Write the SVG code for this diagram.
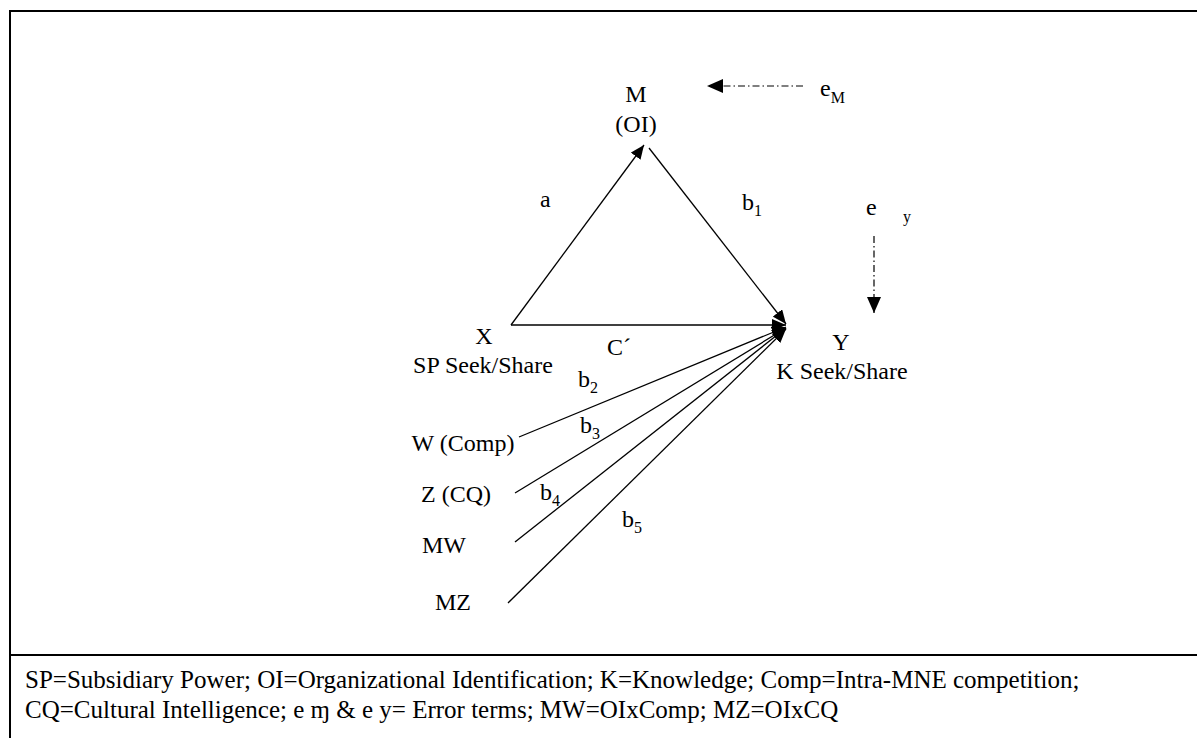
<svg xmlns="http://www.w3.org/2000/svg" width="1197" height="738" viewBox="0 0 1197 738" font-family="'Liberation Serif', 'Times New Roman', 'DejaVu Serif', serif">
  <style>
    text { font-family: "Liberation Serif", "Times New Roman", "DejaVu Serif", serif; fill: #000; }
    .lbl { font-size: 24px; }
    .sub { font-size: 16px; }
    .note { font-size: 25px; }
    .path { stroke: #000; stroke-width: 1.3; fill: none; }
    .err { stroke: #000; stroke-width: 1.2; fill: none; stroke-dasharray: 7 3 1.5 3; }
    .frame { stroke: #000; stroke-width: 2; fill: none; }
  </style>
  <defs>
    <marker id="head" viewBox="0 0 14 12" refX="14" refY="6" markerWidth="14" markerHeight="12" markerUnits="userSpaceOnUse" orient="auto">
      <path d="M0,0 L14,6 L0,12 z" fill="#000"/>
    </marker>
    <marker id="head-err" viewBox="0 0 16 14" refX="16" refY="7" markerWidth="16" markerHeight="14" markerUnits="userSpaceOnUse" orient="auto">
      <path d="M0,0 L16,7 L0,14 z" fill="#000"/>
    </marker>
  </defs>
  <rect width="1197" height="738" fill="#fff"/>

  <!-- frame and legend divider -->
  <g id="frame">
    <path class="frame" d="M10,738 V11 H1197"/>
    <line class="frame" x1="10" y1="655" x2="1197" y2="655"/>
  </g>

  <!-- path connectors -->
  <g id="connectors">
    <line class="path" x1="511" y1="325" x2="644" y2="145" marker-end="url(#head)"/>
    <line class="path" x1="649" y1="148" x2="786" y2="324" marker-end="url(#head)"/>
    <line class="path" x1="511" y1="325" x2="786" y2="325" marker-end="url(#head)"/>
    <line class="path" x1="519" y1="437" x2="786" y2="327" marker-end="url(#head)"/>
    <line class="path" x1="515" y1="493" x2="786" y2="328" marker-end="url(#head)"/>
    <line class="path" x1="515" y1="542" x2="786" y2="328" marker-end="url(#head)"/>
    <line class="path" x1="508" y1="603" x2="786" y2="329" marker-end="url(#head)"/>
    <line class="err" x1="803" y1="86" x2="707" y2="86" marker-end="url(#head-err)"/>
    <line class="err" x1="874" y1="236" x2="874" y2="313" marker-end="url(#head-err)"/>
  </g>

  <!-- nodes -->
  <g id="node-m">
    <text class="lbl" x="636" y="102" text-anchor="middle">M</text>
    <text class="lbl" x="636" y="132" text-anchor="middle">(OI)</text>
  </g>
  <g id="node-x">
    <text class="lbl" x="484" y="344" text-anchor="middle">X</text>
    <text class="lbl" x="483" y="373" text-anchor="middle">SP Seek/Share</text>
  </g>
  <g id="node-y">
    <text class="lbl" x="841" y="350" text-anchor="middle">Y</text>
    <text class="lbl" x="842" y="379" text-anchor="middle">K Seek/Share</text>
  </g>
  <g id="node-w">
    <text class="lbl" x="463" y="451" text-anchor="middle">W (Comp)</text>
  </g>
  <g id="node-z">
    <text class="lbl" x="456" y="502" text-anchor="middle">Z (CQ)</text>
  </g>
  <g id="node-mw">
    <text class="lbl" x="444" y="553" text-anchor="middle">MW</text>
  </g>
  <g id="node-mz">
    <text class="lbl" x="453" y="610" text-anchor="middle">MZ</text>
  </g>
  <g id="node-em">
    <text class="lbl" x="820" y="96">e<tspan class="sub" dy="7">M</tspan></text>
  </g>
  <g id="node-ey">
    <text class="lbl" x="866" y="215">e</text>
    <text class="sub" x="903" y="222">y</text>
  </g>

  <!-- coefficient labels -->
  <g id="coefficients">
    <text class="lbl" x="540" y="207">a</text>
    <text class="lbl" x="742" y="210">b<tspan class="sub" dy="6">1</tspan></text>
    <text class="lbl" x="607" y="355">C´</text>
    <text class="lbl" x="578" y="387">b<tspan class="sub" dy="6">2</tspan></text>
    <text class="lbl" x="580" y="433">b<tspan class="sub" dy="6">3</tspan></text>
    <text class="lbl" x="540" y="500">b<tspan class="sub" dy="6">4</tspan></text>
    <text class="lbl" x="622" y="527">b<tspan class="sub" dy="6">5</tspan></text>
  </g>

  <!-- legend -->
  <g id="legend">
    <text class="note" x="25" y="688">SP=Subsidiary Power; OI=Organizational Identification; K=Knowledge; Comp=Intra-MNE competition;</text>
    <text class="note" x="25" y="718">CQ=Cultural Intelligence; e ɱ &amp; e y= Error terms; MW=OIxComp; MZ=OIxCQ</text>
  </g>
</svg>
